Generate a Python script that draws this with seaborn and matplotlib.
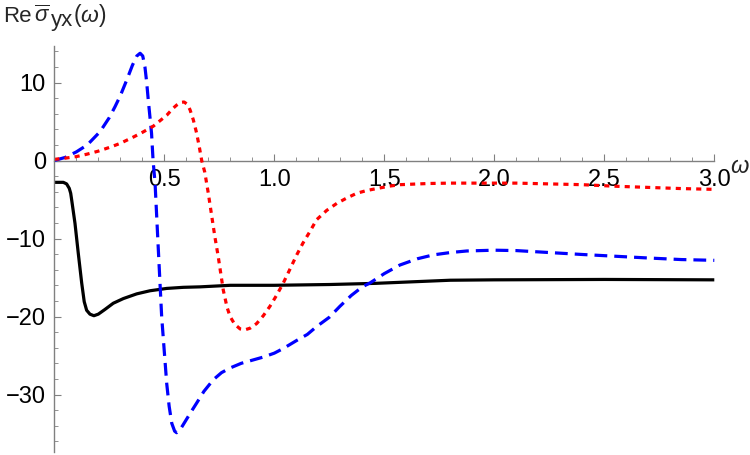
import numpy as np
import pandas as pd
import matplotlib
matplotlib.use("Agg")
import matplotlib.pyplot as plt
import seaborn as sns
from matplotlib.ticker import MultipleLocator, FormatStrFormatter, FixedLocator

# ---- data ----
black_x = [0.0, 0.041, 0.056, 0.068, 0.0745, 0.079, 0.094, 0.109, 0.1245, 0.136, 0.147, 0.162,
           0.18, 0.2, 0.23, 0.268, 0.314, 0.3745, 0.435, 0.511, 0.586, 0.662,
           0.8, 1.0, 1.25, 1.46, 1.8, 2.0, 2.5, 3.0]
black_y = [-2.8, -2.8, -3.0, -3.57, -4.2, -5.06, -8.05, -11.9, -15.7, -18.1, -19.2, -19.7,
           -19.9, -19.7, -19.1, -18.3, -17.7, -17.1, -16.7, -16.4, -16.26, -16.2,
           -16.0, -16.0, -15.9, -15.75, -15.35, -15.3, -15.25, -15.3]

blue_x = [0.0, 0.05, 0.1, 0.15, 0.208, 0.25, 0.276, 0.3, 0.329, 0.355, 0.375, 0.39, 0.402,
          0.412, 0.42, 0.427, 0.442, 0.449, 0.458, 0.473, 0.488, 0.5, 0.511, 0.522, 0.534,
          0.547, 0.556, 0.57, 0.594, 0.62, 0.647, 0.68, 0.723, 0.76, 0.799, 0.85, 0.9, 0.95,
          1.0, 1.041, 1.1, 1.15, 1.192, 1.25, 1.298, 1.35, 1.4, 1.435, 1.5, 1.571, 1.65,
          1.723, 1.8, 1.875, 2.0, 2.1, 2.25, 2.4, 2.5, 2.7, 2.85, 3.0]
blue_y = [0.0, 0.4, 1.1, 2.0, 3.7, 5.5, 6.9, 8.3, 10.3, 12.2, 13.4, 13.75, 13.4,
          12.0, 10.0, 7.8, 3.5, 0.0, -2.9, -11.5, -20.0, -24.5, -28.6, -31.5, -33.7,
          -34.7, -34.9, -34.6, -33.5, -32.3, -31.1, -29.6, -28.1, -27.2, -26.6, -26.0, -25.6, -25.2,
          -24.7, -24.1, -23.1, -22.3, -21.3, -20.1, -18.7, -17.3, -16.2, -15.7, -14.5, -13.4, -12.6,
          -12.1, -11.8, -11.6, -11.5, -11.55, -11.8, -12.05, -12.2, -12.5, -12.7, -12.8]

red_x = [0.0, 0.05, 0.1, 0.147, 0.2, 0.253, 0.3, 0.359, 0.4, 0.45, 0.511, 0.54, 0.556, 0.575,
         0.59, 0.605, 0.617, 0.632, 0.647, 0.66, 0.67, 0.684, 0.7, 0.716, 0.73, 0.745, 0.768,
         0.785, 0.799, 0.82, 0.845, 0.867, 0.89, 0.92, 0.95, 0.98, 1.01, 1.041, 1.07, 1.102,
         1.13, 1.162, 1.192, 1.238, 1.284, 1.33, 1.375, 1.42, 1.465, 1.52, 1.571, 1.7, 1.8,
         2.0, 2.1, 2.25, 2.4, 2.55, 2.7, 2.85, 3.0]
red_y = [0.15, 0.3, 0.5, 0.8, 1.2, 1.7, 2.2, 3.0, 3.6, 4.4, 5.8, 6.7, 7.1, 7.45,
         7.5, 7.2, 6.5, 5.2, 3.5, 1.6, 0.0, -1.5, -4.2, -7.2, -9.8, -12.3, -16.6,
         -18.8, -20.0, -21.0, -21.6, -21.7, -21.5, -20.9, -19.9, -18.7, -17.3, -15.7, -14.0, -12.1,
         -10.6, -9.1, -7.6, -6.4, -5.5, -4.8, -4.2, -3.85, -3.6, -3.3, -3.1, -2.95, -2.9,
         -2.9, -2.9, -3.0, -3.1, -3.3, -3.45, -3.6, -3.7]

x_major = [0.5, 1.0, 1.5, 2.0, 2.5, 3.0]
y_major = [-30, -20, -10, 0, 10]

sns.set_style("ticks")
plt.rcParams["font.family"] = ["Liberation Sans", "DejaVu Sans"]
plt.rcParams["mathtext.fontset"] = "custom"
plt.rcParams["mathtext.rm"] = "Liberation Sans"
plt.rcParams["mathtext.it"] = "Liberation Sans:italic"
plt.rcParams["mathtext.sf"] = "Liberation Sans"

fig = plt.figure(figsize=(7.5, 4.55), dpi=100)
W, H = 750, 455
x0px, x1px = 54.3, 714.3
y0px, ytop = 160.5, 46.0
ppu = 7.8
ybot_px = 452.0
ymax = (y0px - ytop) / ppu
ymin = (y0px - ybot_px) / ppu
ax = fig.add_axes([x0px / W, 1 - ybot_px / H, (x1px - x0px) / W, (ybot_px - ytop) / H])

df_b = pd.DataFrame({"w": black_x, "v": black_y})
df_u = pd.DataFrame({"w": blue_x, "v": blue_y})
df_r = pd.DataFrame({"w": red_x, "v": red_y})

lw = 2.3
sns.lineplot(data=df_b, x="w", y="v", ax=ax, color="black", linewidth=lw, estimator=None, sort=False)
sns.lineplot(data=df_u, x="w", y="v", ax=ax, color=(0, 0, 1), linewidth=lw, estimator=None, sort=False)
sns.lineplot(data=df_r, x="w", y="v", ax=ax, color=(1, 0, 0), linewidth=lw, estimator=None, sort=False)
lines = ax.get_lines()
lines[1].set_linestyle((0, (4.0, 2.2)))
lines[2].set_linestyle((0, (1.6, 1.6)))
for ln in lines:
    ln.set_clip_on(False)
    ln.set_solid_capstyle("butt")
    ln.set_dash_capstyle("butt")
    ln.set_solid_joinstyle("round")

ax.set_xlim(0, 3.0)
ax.set_ylim(ymin, ymax)
ax.set_xlabel("")
ax.set_ylabel("")

axis_col = "#808080"
for s in ["top", "right"]:
    ax.spines[s].set_visible(False)
ax.spines["left"].set_position(("data", 0))
ax.spines["bottom"].set_position(("data", 0))
for s in ["left", "bottom"]:
    ax.spines[s].set_color(axis_col)
    ax.spines[s].set_linewidth(1.0)
ax.spines["bottom"].set_zorder(0.5)

ax.xaxis.set_major_locator(FixedLocator(x_major))
ax.xaxis.set_minor_locator(MultipleLocator(0.1))
ax.xaxis.set_major_formatter(FormatStrFormatter("%.1f"))
ax.yaxis.set_major_locator(FixedLocator(y_major))
ax.yaxis.set_minor_locator(MultipleLocator(2))

ax.tick_params(axis="both", which="major", direction="in", length=5, width=0.8,
               color=axis_col, labelsize=17, labelcolor="black")
ax.tick_params(axis="both", which="minor", direction="in", length=3, width=0.6, color=axis_col)
ax.tick_params(axis="x", which="major", pad=6)
ax.tick_params(axis="y", which="major", pad=6)

fs = 16
fig.text(3 / W, 1 - 22 / H, "Re", fontsize=fs, ha="left", va="baseline")
fig.text(34 / W, 1 - 22 / H, r"$\overline{\sigma}$", fontsize=fs, ha="left", va="baseline")
fig.text(51 / W, 1 - 26 / H, "yx", fontsize=fs, ha="left", va="baseline")
fig.text(73 / W, 1 - 22 / H, r"$(\omega)$", fontsize=fs + 0.5, ha="left", va="baseline")
fig.text(730 / W, 1 - 167 / H, r"$\omega$", fontsize=17, ha="left", va="center")

fig.savefig("out.png", dpi=100)
